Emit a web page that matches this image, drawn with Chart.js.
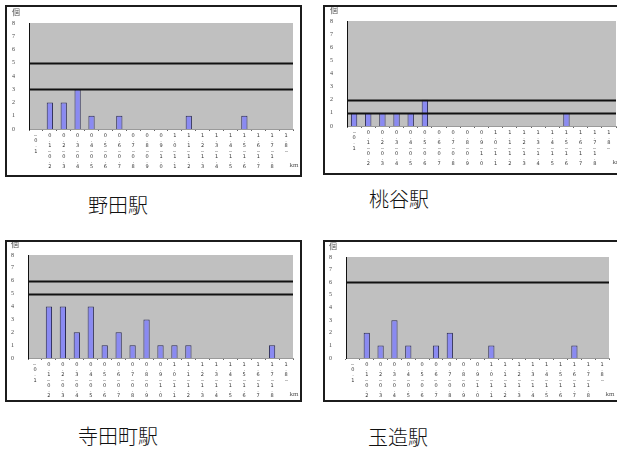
<!DOCTYPE html>
<html lang="ja">
<head>
<meta charset="utf-8">
<script src="https://cdn.jsdelivr.net/npm/chart.js@4"></script>
<style>
  html, body { margin: 0; padding: 0; background: #fff; overflow: hidden; }
  body { width: 617px; height: 455px; position: relative; }
  .panel { position: absolute; border: 2px solid #1c1c1c; background: #fff; }
  .panel canvas { display: block; }
  .station {
    position: absolute; width: 140px; text-align: center;
    font-family: "Noto Sans CJK JP", sans-serif; font-weight: 300;
    font-size: 20px; line-height: 24px; color: #111;
  }
</style>
</head>
<body>
<div class="panel" style="left:5px;top:5px;width:293px;height:168px"><canvas id="noda" width="293" height="168"></canvas></div>
<div class="panel" style="left:323px;top:5px;width:298px;height:166px"><canvas id="momodani" width="298" height="166"></canvas></div>
<div class="panel" style="left:5px;top:240px;width:293px;height:158px"><canvas id="teradacho" width="293" height="158"></canvas></div>
<div class="panel" style="left:323px;top:240px;width:300px;height:158px"><canvas id="tamatsukuri" width="300" height="158"></canvas></div>

<div class="station" style="left:48px;top:193px">野田駅</div>
<div class="station" style="left:329px;top:187px">桃谷駅</div>
<div class="station" style="left:48px;top:424px">寺田町駅</div>
<div class="station" style="left:328px;top:425px">玉造駅</div>

<script>
// distance classes (km)
const categories = [
  "～0.1", "0.1～0.2", "0.2～0.3", "0.3～0.4", "0.4～0.5", "0.5～0.6", "0.6～0.7",
  "0.7～0.8", "0.8～0.9", "0.9～1.0", "1.0～1.1", "1.1～1.2", "1.2～1.3", "1.3～1.4",
  "1.4～1.5", "1.5～1.6", "1.6～1.7", "1.7～1.8", "1.8～"
];
const yTicks = [0, 1, 2, 3, 4, 5, 6, 7, 8];

// counts per distance class
const nodaCounts        = [0, 2, 2, 3, 1, 0, 1, 0, 0, 0, 0, 1, 0, 0, 0, 1, 0, 0, 0];
const momodaniCounts    = [1, 1, 1, 1, 1, 2, 0, 0, 0, 0, 0, 0, 0, 0, 0, 1, 0, 0, 0];
const teradachoCounts   = [0, 4, 4, 2, 4, 1, 2, 1, 3, 1, 1, 1, 0, 0, 0, 0, 0, 1, 0];
const tamatsukuriCounts = [0, 2, 1, 3, 1, 0, 1, 2, 0, 0, 1, 0, 0, 0, 0, 0, 1, 0, 0];

// horizontal reference levels
const nodaLevels        = [3, 5];
const momodaniLevels    = [1, 2];
const teradachoLevels   = [5, 6];
const tamatsukuriLevels = [6];

const unitY = "個";
const unitX = "km";

// grey plot background, reference lines and unit captions
const panelDecor = {
  id: "panelDecor",
  beforeDraw(chart) {
    const { ctx, chartArea: a } = chart;
    ctx.save();
    ctx.fillStyle = "#c0c0c0";
    ctx.fillRect(a.left, a.top, a.right - a.left, a.bottom - a.top);
    ctx.restore();
  },
  afterDatasetsDraw(chart, args, opts) {
    const { ctx, chartArea: a, scales } = chart;
    ctx.save();
    ctx.strokeStyle = "#111";
    ctx.lineWidth = 1.8;
    (opts.levels || []).forEach(v => {
      const y = Math.round(scales.y.getPixelForValue(v)) + 0.5;
      ctx.beginPath();
      ctx.moveTo(a.left, y);
      ctx.lineTo(a.right, y);
      ctx.stroke();
    });
    ctx.fillStyle = "#555";
    ctx.font = "8px 'Liberation Serif', 'Noto Sans CJK JP', serif";
    ctx.textAlign = "center";
    ctx.textBaseline = "middle";
    ctx.fillText(unitY, a.left - 13, a.top - 10);
    ctx.font = "7px 'Liberation Serif', serif";
    ctx.fillText(unitX, a.right + 1, a.bottom + 36);
    ctx.restore();
  }
};

function makeChart(id, counts, levels, yWidth, xHeight, padTop, padRight) {
  return new Chart(document.getElementById(id), {
    type: "bar",
    data: {
      labels: categories,
      datasets: [{
        data: counts,
        backgroundColor: "#8a8af2",
        borderColor: "#2a2a55",
        borderWidth: 1,
        borderSkipped: "bottom",
        barPercentage: 0.45,
        categoryPercentage: 1.0
      }]
    },
    options: {
      responsive: false,
      animation: false,
      layout: { padding: { top: padTop, right: padRight, left: 0, bottom: 0 } },
      plugins: {
        legend: { display: false },
        tooltip: { enabled: false },
        panelDecor: { levels }
      },
      scales: {
        x: {
          afterFit(scale) { scale.height = xHeight; },
          grid: { display: true, offset: true, drawOnChartArea: false, tickLength: 2, color: "#666" },
          border: { display: true, color: "#9a9a9a" },
          ticks: {
            autoSkip: false, maxRotation: 0, minRotation: 0, padding: 2,
            color: "#333",
            font: { size: 5, family: "'DejaVu Sans', sans-serif", lineHeight: 1.05 },
            callback: (v, i) => categories[i].split("")
          }
        },
        y: {
          min: yTicks[0], max: yTicks[yTicks.length - 1],
          afterFit(scale) { scale.width = yWidth; },
          afterBuildTicks(scale) { scale.ticks = yTicks.map(v => ({ value: v })); },
          grid: { display: false },
          border: { display: true, color: "#111", width: 1 },
          ticks: {
            padding: 6, color: "#444",
            font: { size: 6, family: "'Liberation Serif', serif" }
          }
        }
      }
    },
    plugins: [panelDecor]
  });
}

makeChart("noda",        nodaCounts,        nodaLevels,        22, 46, 16, 7);
makeChart("momodani",    momodaniCounts,    momodaniLevels,    22, 47, 14, 7);
makeChart("teradacho",   teradachoCounts,   teradachoLevels,   21, 42, 13, 7);
makeChart("tamatsukuri", tamatsukuriCounts, tamatsukuriLevels, 21, 42, 15, 16);
</script>
</body>
</html>
